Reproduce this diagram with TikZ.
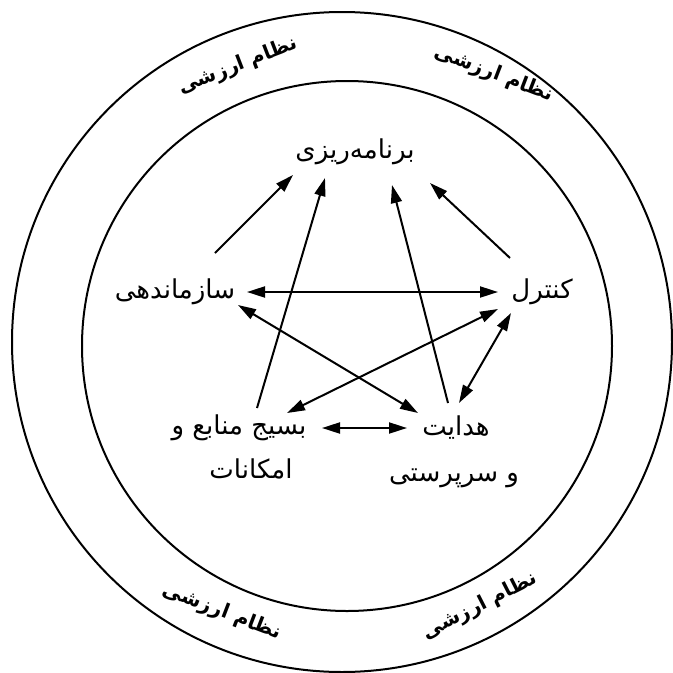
\documentclass[tikz,border=0pt]{standalone}
\usepackage{fontspec}
\newfontfamily\arabicfont[Script=Arabic]{DejaVu Sans}
\TeXXeTstate=1
\usetikzlibrary{arrows.meta}
\begin{document}
\begin{tikzpicture}[x=1pt,y=-1pt,
  lbl/.style={font=\arabicfont\fontsize{26}{30}\selectfont, inner sep=0pt},
  vlbl/.style={font=\arabicfont\bfseries\fontsize{20}{24}\selectfont, inner sep=0pt},
  ring/.style={line width=2pt},
  tipx/.tip={Triangle[length=18pt,width=11pt]},
  arr/.style={line width=2pt, -tipx},
  darr/.style={line width=2pt, tipx-tipx}]
\useasboundingbox (0,0) rectangle (673,673);
% circles
\coordinate (oc) at (342,342);
\coordinate (ic) at (347,346);
\draw[ring] (oc) circle[radius=330pt];
\draw[ring] (ic) circle[radius=265pt];
% value-system labels
\node[vlbl, rotate=21]  (v1) at (238,66)  {\beginR نظام ارزشی\endR};
\node[vlbl, rotate=-21] (v2) at (494,74)  {\beginR نظام ارزشی\endR};
\node[vlbl, rotate=-21] (v3) at (222,612) {\beginR نظام ارزشی\endR};
\node[vlbl, rotate=27]  (v4) at (480,606) {\beginR نظام ارزشی\endR};
% main labels
\node[lbl] (bar)  at (355,152) {\beginR برنامه‌ریزی\endR};
\node[lbl] (saz)  at (175,292) {\beginR سازماندهی\endR};
\node[lbl] (kon)  at (542,292) {\beginR کنترل\endR};
\node[lbl] (bas)  at (239,428) {\beginR بسیج منابع و\endR};
\node[lbl] (bas2) at (251,469) {\beginR امکانات\endR};
\node[lbl] (hed)  at (456,428) {\beginR هدایت\endR};
\node[lbl] (hed2) at (454,478) {\beginR و سرپرستی\endR};
% arrows to planning
\draw[arr] ([shift={(40,-39)}]saz.center) -- ([shift={(-62,23)}]bar.center);
\draw[arr] ([shift={(18,-20)}]bas.center) -- ([shift={(-30,26)}]bar.center);
\draw[arr] ([shift={(-8,-25)}]hed.center) -- ([shift={(37,33)}]bar.center);
\draw[arr] ([shift={(-32,-34)}]kon.center) -- ([shift={(75,31)}]bar.center);
% double arrows
\draw[darr] ([shift={(72,0)}]saz.center) -- ([shift={(-44,0)}]kon.center);
\draw[darr] ([shift={(63,13)}]saz.center) -- ([shift={(-38,-15)}]hed.center);
\draw[darr] ([shift={(-44,17)}]kon.center) -- ([shift={(48,-15)}]bas.center);
\draw[darr] ([shift={(-31,21)}]kon.center) -- ([shift={(3,-25)}]hed.center);
\draw[darr] ([shift={(83,0)}]bas.center) -- ([shift={(-49,0)}]hed.center);
\end{tikzpicture}
\end{document}
